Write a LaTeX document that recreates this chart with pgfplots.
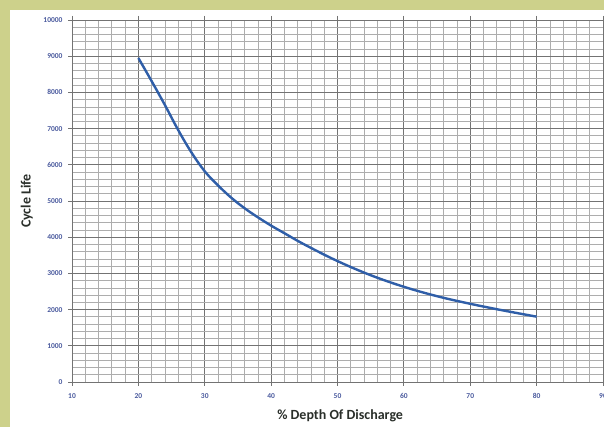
\documentclass[border=0pt]{standalone}
\usepackage{fontspec}
\setmainfont{Carlito}
\usepackage{pgfplots}
\pgfplotsset{compat=1.18}
\definecolor{bggreen}{HTML}{CDD18B}
\definecolor{ticklab}{HTML}{4A5A9E}
\definecolor{curve}{HTML}{2F5EA8}
\definecolor{labcol}{HTML}{2A2F2A}
\begin{document}
\begin{tikzpicture}[x=1pt,y=1pt]
\fill[bggreen] (0,0) rectangle (604,427);
\fill[white] (10,0) rectangle (604,417);
\useasboundingbox (0,0) rectangle (604,427);
\begin{axis}[at={(72pt,45pt)}, anchor=south west, scale only axis,
  width=531pt, height=362pt,
  xmin=10, xmax=90, ymin=0, ymax=10000,
  xtick={10,20,...,90}, ytick={0,1000,...,10000},
  minor x tick num=4, minor y tick num=4,
  grid=both,
  major grid style={draw=black!55, line width=0.9pt},
  minor grid style={draw=black!32, line width=0.7pt},
  axis line style={draw=black!55},
  tick style={draw=black!55, line width=0.8pt}, tick align=outside,
  major tick length=4pt, minor tick length=0pt,
  ticklabel style={font=\fontsize{7.5}{8}\selectfont\bfseries, color=ticklab},
  /pgf/number format/assume math mode=true,
  scaled y ticks=false,
  y tick label style={/pgf/number format/1000 sep={}, xshift=-2pt},
  x tick label style={yshift=-4pt},
  xlabel={\% Depth Of Discharge}, ylabel={Cycle Life},
  label style={font=\fontsize{14}{16}\selectfont\bfseries, color=labcol},
  xlabel style={at={(axis description cs:0.505,-0.094)}, anchor=center},
  ylabel style={at={(axis description cs:-0.085,0.5)}, anchor=center},
]
\addplot[curve, line width=2.4pt, smooth, tension=0.6] coordinates {
(20,8950) (22,8310) (24,7650) (26,6960) (28,6340) (30,5820) (32,5430)
(34,5090) (36,4800) (38,4550) (40,4320) (42,4110) (45,3800) (50,3340)
(55,2950) (60,2630) (65,2370) (70,2160) (75,1975) (80,1805)
};
\end{axis}
\end{tikzpicture}
\end{document}
